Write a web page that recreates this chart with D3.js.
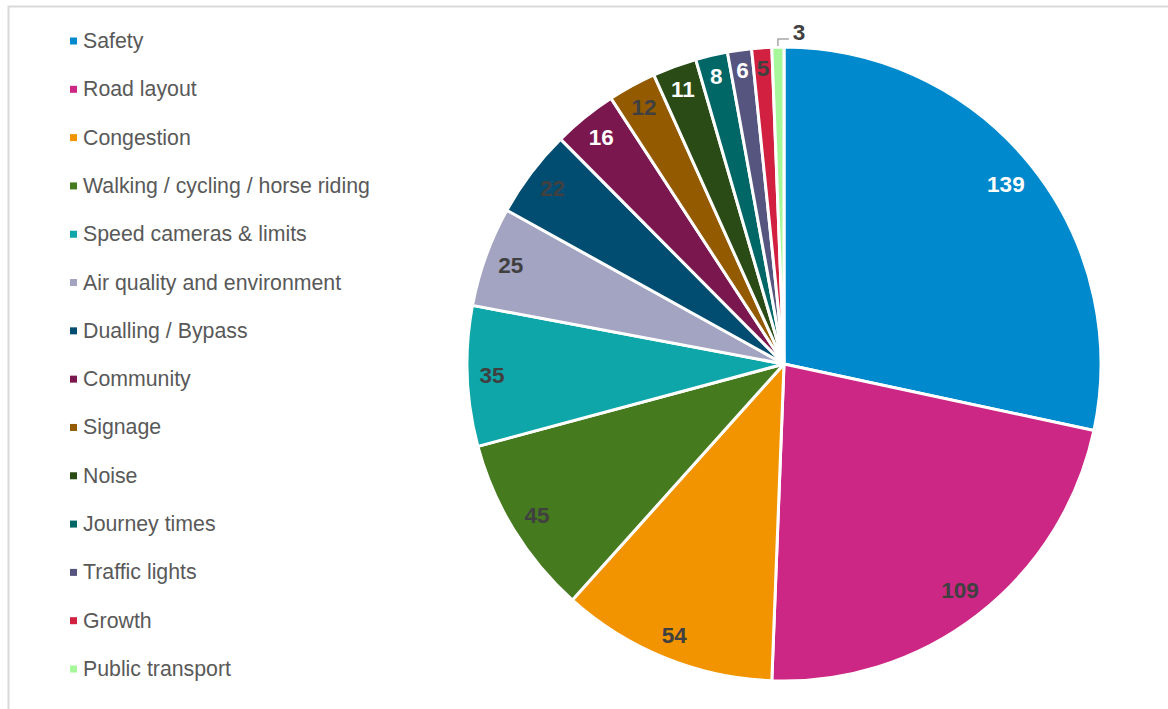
<!DOCTYPE html>
<html>
<head>
<meta charset="utf-8">
<script src="https://cdn.jsdelivr.net/npm/d3@7"></script>
<style>
  html, body { margin: 0; padding: 0; background: #fff; }
  svg { display: block; }
</style>
</head>
<body>
<svg id="chart" width="1168" height="709"></svg>
<script>
// Topics raised, with number of responses
const categories = [
  "Safety", "Road layout", "Congestion", "Walking / cycling / horse riding",
  "Speed cameras & limits", "Air quality and environment", "Dualling / Bypass",
  "Community", "Signage", "Noise", "Journey times", "Traffic lights",
  "Growth", "Public transport"
];
const counts = [139, 109, 54, 45, 35, 25, 22, 16, 12, 11, 8, 6, 5, 3];
const colors = [
  "#008acd", "#cd2785", "#f29400", "#467a1f", "#0ea6a8", "#a3a3c2", "#004d71",
  "#7b174f", "#935a00", "#2a4b15", "#006666", "#555580", "#d12040", "#a6f79a"
];
// Label text colour per slice (light on dark fills, dark otherwise)
const labelColors = [
  "#ffffff", "#404040", "#404040", "#404040", "#404040", "#404040", "#404040",
  "#ffffff", "#404040", "#ffffff", "#ffffff", "#ffffff", "#404040", "#404040"
];

const svg = d3.select("#chart");
const W = 1168, H = 709;

// Chart frame
svg.append("rect")
  .attr("x", 8.5).attr("y", 6.5)
  .attr("width", W + 10).attr("height", H + 10)
  .attr("fill", "none").attr("stroke", "#d9d9d9").attr("stroke-width", 2);

const cx = 784, cy = 364, R = 317;

const color = d3.scaleOrdinal().domain(categories).range(colors);
const pie = d3.pie().sort(null).value(d => d.value);
const data = categories.map((c, i) => ({ name: c, value: counts[i], i }));
const arcs = pie(data);
const arc = d3.arc().innerRadius(0).outerRadius(R);

const g = svg.append("g").attr("transform", `translate(${cx},${cy})`);

g.selectAll("path.slice")
  .data(arcs)
  .join("path")
  .attr("class", "slice")
  .attr("d", arc)
  .attr("fill", d => color(d.data.name))
  .attr("stroke", "#ffffff")
  .attr("stroke-width", 3)
  .attr("stroke-linejoin", "round");

// Labels placed at the inside end of each slice
const fontSize = 22.5;
const pad = 12;
const lbl = g.append("g")
  .attr("font-family", "Liberation Sans, Arial, sans-serif")
  .attr("font-weight", "bold")
  .attr("font-size", fontSize);

arcs.forEach(d => {
  const mid = (d.startAngle + d.endAngle) / 2;
  const ux = Math.sin(mid), uy = -Math.cos(mid);
  const text = String(d.data.value);
  const hw = text.length * fontSize * 0.556 / 2;
  const hh = fontSize * 0.72 / 2;
  const sweep = d.endAngle - d.startAngle;
  if (sweep < 0.05) {
    // Too thin: label sits above the slice with a leader line
    const ex = R * ux, ey = R * uy;
    const lx = ex, ly = ey - 8;
    lbl.append("path")
      .attr("d", `M${ex},${ey - 1}L${lx},${ly}L${lx + 11},${ly}`)
      .attr("fill", "none").attr("stroke", "#a6a6a6").attr("stroke-width", 1.5);
    lbl.append("text")
      .attr("x", lx + 21).attr("y", ly - 7)
      .attr("text-anchor", "middle").attr("dominant-baseline", "central")
      .attr("fill", labelColors[d.data.i])
      .text(text);
    return;
  }
  const k = Math.abs(ux) * hw + Math.abs(uy) * hh;
  const target = R - pad;
  const dist = (-2 * k + Math.sqrt(4 * k * k - 4 * (hw * hw + hh * hh - target * target))) / 2;
  lbl.append("text")
    .attr("x", dist * ux).attr("y", dist * uy)
    .attr("text-anchor", "middle").attr("dominant-baseline", "central")
    .attr("fill", labelColors[d.data.i])
    .text(text);
});

// Legend
const legendY = d3.scalePoint().domain(categories).range([41, 669]);
const legend = svg.append("g")
  .attr("font-family", "Liberation Sans, Arial, sans-serif")
  .attr("font-size", 21.3)
  .attr("fill", "#595959");
const rows = legend.selectAll("g.row")
  .data(categories)
  .join("g")
  .attr("class", "row")
  .attr("transform", d => `translate(70,${legendY(d)})`);
rows.append("rect")
  .attr("x", 0).attr("y", -3.5).attr("width", 7).attr("height", 7)
  .attr("fill", d => color(d));
rows.append("text")
  .attr("x", 13).attr("y", 0)
  .attr("dominant-baseline", "central")
  .text(d => d);
</script>
</body>
</html>
